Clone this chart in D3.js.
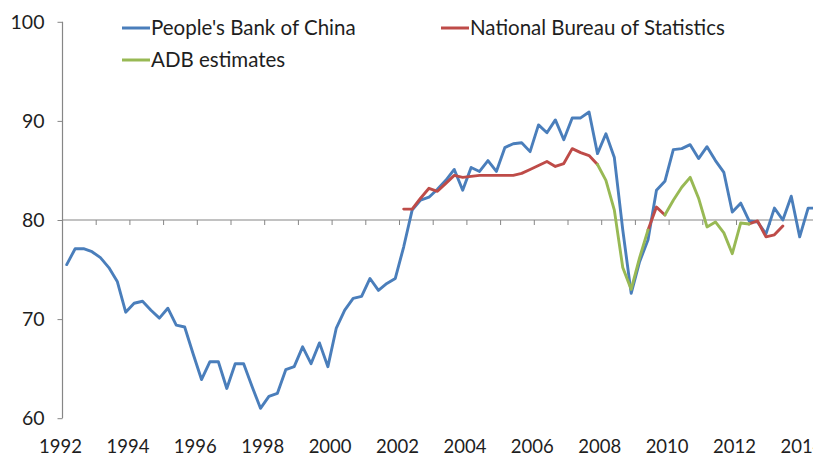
<!DOCTYPE html>
<html>
<head>
<meta charset="utf-8">
<script src="https://cdn.jsdelivr.net/npm/d3@7/dist/d3.min.js"></script>
<style>
  html, body { margin: 0; padding: 0; background: #ffffff; }
  svg { display: block; }
  text { font-family: Lato, "Open Sans", sans-serif; fill: #1e1e1e; }
</style>
</head>
<body>
<svg id="chart" width="813" height="459"></svg>
<script>
// Quarterly categories, 1992Q1 .. 2014Q2
const firstYear = 1992;
const lastYear = 2014;
const lastQuarter = 2;
const quarters = [];
for (let y = firstYear; y <= lastYear; y++) {
  for (let q = 1; q <= 4; q++) {
    if (y === lastYear && q > lastQuarter) break;
    quarters.push(y + "Q" + q);
  }
}

const yearLabels = ["1992", "1994", "1996", "1998", "2000", "2002", "2004",
                    "2006", "2008", "2010", "2012", "2014"];
const yTickValues = [60, 70, 80, 90, 100];

// People's Bank of China (one value per quarter, four per row)
const pbocValues = [
  75.5, 77.1, 77.1, 76.8,   // 1992
  76.2, 75.2, 73.8, 70.7,   // 1993
  71.6, 71.8, 70.9, 70.1,   // 1994
  71.1, 69.4, 69.2, 66.5,   // 1995
  63.9, 65.7, 65.7, 63.0,   // 1996
  65.5, 65.5, 63.2, 61.0,   // 1997
  62.2, 62.5, 64.9, 65.2,   // 1998
  67.2, 65.5, 67.6, 65.2,   // 1999
  69.1, 70.9, 72.1, 72.3,   // 2000
  74.1, 72.9, 73.6, 74.1,   // 2001
  77.3, 81.0, 82.0, 82.3,   // 2002
  83.1, 84.0, 85.1, 83.0,   // 2003
  85.3, 84.9, 86.0, 84.9,   // 2004
  87.3, 87.7, 87.8, 86.9,   // 2005
  89.6, 88.8, 90.1, 88.1,   // 2006
  90.3, 90.3, 90.9, 86.7,   // 2007
  88.7, 86.3, 79.0, 72.6,   // 2008
  75.8, 78.0, 83.0, 83.9,   // 2009
  87.1, 87.2, 87.6, 86.2,   // 2010
  87.4, 86.0, 84.8, 80.8,   // 2011
  81.7, 79.9, 79.8, 78.6,   // 2012
  81.2, 80.0, 82.4, 78.3,   // 2013
  81.2, 81.2                // 2014
];

// National Bureau of Statistics (null = no figure)
const nbsValues = [
  null, null, null, null,   // 1992
  null, null, null, null,   // 1993
  null, null, null, null,   // 1994
  null, null, null, null,   // 1995
  null, null, null, null,   // 1996
  null, null, null, null,   // 1997
  null, null, null, null,   // 1998
  null, null, null, null,   // 1999
  null, null, null, null,   // 2000
  null, null, null, null,   // 2001
  81.1, 81.1, 82.2, 83.2,   // 2002
  82.9, 83.7, 84.5, 84.3,   // 2003
  84.4, 84.5, 84.5, 84.5,   // 2004
  84.5, 84.5, 84.7, 85.1,   // 2005
  85.5, 85.9, 85.4, 85.7,   // 2006
  87.2, 86.8, 86.5, 85.6,   // 2007
  null, null, null, null,   // 2008
  null, 79.0, 81.3, 80.5,   // 2009
  null, null, null, null,   // 2010
  null, null, null, null,   // 2011
  null, 79.6, 79.9, 78.3,   // 2012
  78.5, 79.4, null, null,   // 2013
  null, null                // 2014
];

// ADB estimates (null = no estimate)
const adbValues = [
  null, null, null, null,   // 1992
  null, null, null, null,   // 1993
  null, null, null, null,   // 1994
  null, null, null, null,   // 1995
  null, null, null, null,   // 1996
  null, null, null, null,   // 1997
  null, null, null, null,   // 1998
  null, null, null, null,   // 1999
  null, null, null, null,   // 2000
  null, null, null, null,   // 2001
  null, null, null, null,   // 2002
  null, null, null, null,   // 2003
  null, null, null, null,   // 2004
  null, null, null, null,   // 2005
  null, null, null, null,   // 2006
  null, null, null, 85.6,   // 2007
  84.0, 81.0, 75.2, 73.0,   // 2008
  76.2, 79.0, null, 80.5,   // 2009
  82.0, 83.3, 84.3, 82.2,   // 2010
  79.3, 79.8, 78.7, 76.6,   // 2011
  79.7, 79.6, null, null,   // 2012
  null, null, null, null,   // 2013
  null, null                // 2014
];

const seriesNames = ["People's Bank of China", "National Bureau of Statistics", "ADB estimates"];
const seriesColors = ["#4a7ebb", "#be4b48", "#98b954"];

// Layout
const plotLeft = 62.5;
const quarterWidth = 8.425;
const yTop = 21.8, yBottom = 418.2;

const svg = d3.select("#chart");

const x = d3.scaleBand()
  .domain(quarters)
  .range([plotLeft, plotLeft + quarters.length * quarterWidth])
  .padding(0);

const y = d3.scaleLinear().domain([60, 100]).range([yBottom, yTop]);

const axisColor = "#868686";
const axisLayer = svg.append("g");

// Vertical value axis
axisLayer.append("line")
  .attr("x1", plotLeft).attr("x2", plotLeft)
  .attr("y1", y(100)).attr("y2", y(60))
  .attr("stroke", axisColor).attr("stroke-width", 1.2);

const yAxis = d3.axisLeft(y).tickValues(yTickValues).tickSize(5).tickPadding(13);
const yAxisG = axisLayer.append("g")
  .attr("transform", `translate(${plotLeft},0)`)
  .call(yAxis);
yAxisG.select(".domain").remove();
yAxisG.selectAll(".tick line").attr("stroke", axisColor);
yAxisG.selectAll(".tick text")
  .attr("font-size", 19.5)
  .style("font-family", "Lato, 'Open Sans', sans-serif")
  .attr("fill", "#1e1e1e");

// Horizontal category axis crossing at 80
const axisY = y(80);
axisLayer.append("line")
  .attr("x1", plotLeft).attr("x2", plotLeft + quarters.length * quarterWidth)
  .attr("y1", axisY).attr("y2", axisY)
  .attr("stroke", axisColor).attr("stroke-width", 1.2);

const yearStarts = quarters.filter(q => q.endsWith("Q1"));
axisLayer.selectAll("line.xtick")
  .data(yearStarts)
  .join("line")
  .attr("class", "xtick")
  .attr("x1", d => x(d)).attr("x2", d => x(d))
  .attr("y1", axisY).attr("y2", axisY + 5)
  .attr("stroke", axisColor).attr("stroke-width", 1);

// Year labels along the bottom, every second year
svg.append("g").selectAll("text")
  .data(yearLabels)
  .join("text")
  .attr("x", d => x(d + "Q1") - 2)
  .attr("y", 453)
  .attr("text-anchor", "middle")
  .attr("font-size", 18.5)
  .text(d => d);

// Series lines
const line = d3.line()
  .defined(d => d.v != null)
  .x(d => x(d.q) + x.bandwidth() / 2)
  .y(d => y(d.v));

const allSeries = [pbocValues, nbsValues, adbValues];
allSeries.forEach((vals, i) => {
  const pts = quarters.map((q, k) => ({ q, v: vals[k] }));
  svg.append("path")
    .datum(pts)
    .attr("fill", "none")
    .attr("stroke", seriesColors[i])
    .attr("stroke-width", 2.9)
    .attr("stroke-linejoin", "round")
    .attr("stroke-linecap", "round")
    .attr("d", line);
});

// Legend
const legendItems = [
  { name: seriesNames[0], color: seriesColors[0], x: 122, y: 28 },
  { name: seriesNames[1], color: seriesColors[1], x: 441, y: 28 },
  { name: seriesNames[2], color: seriesColors[2], x: 122, y: 60 }
];
const legend = svg.append("g");
legendItems.forEach(it => {
  legend.append("line")
    .attr("x1", it.x).attr("x2", it.x + 28)
    .attr("y1", it.y).attr("y2", it.y)
    .attr("stroke", it.color).attr("stroke-width", 3);
  legend.append("text")
    .attr("x", it.x + 29)
    .attr("y", it.y + 7)
    .attr("font-size", 20.5)
    .text(it.name);
});
</script>
</body>
</html>
